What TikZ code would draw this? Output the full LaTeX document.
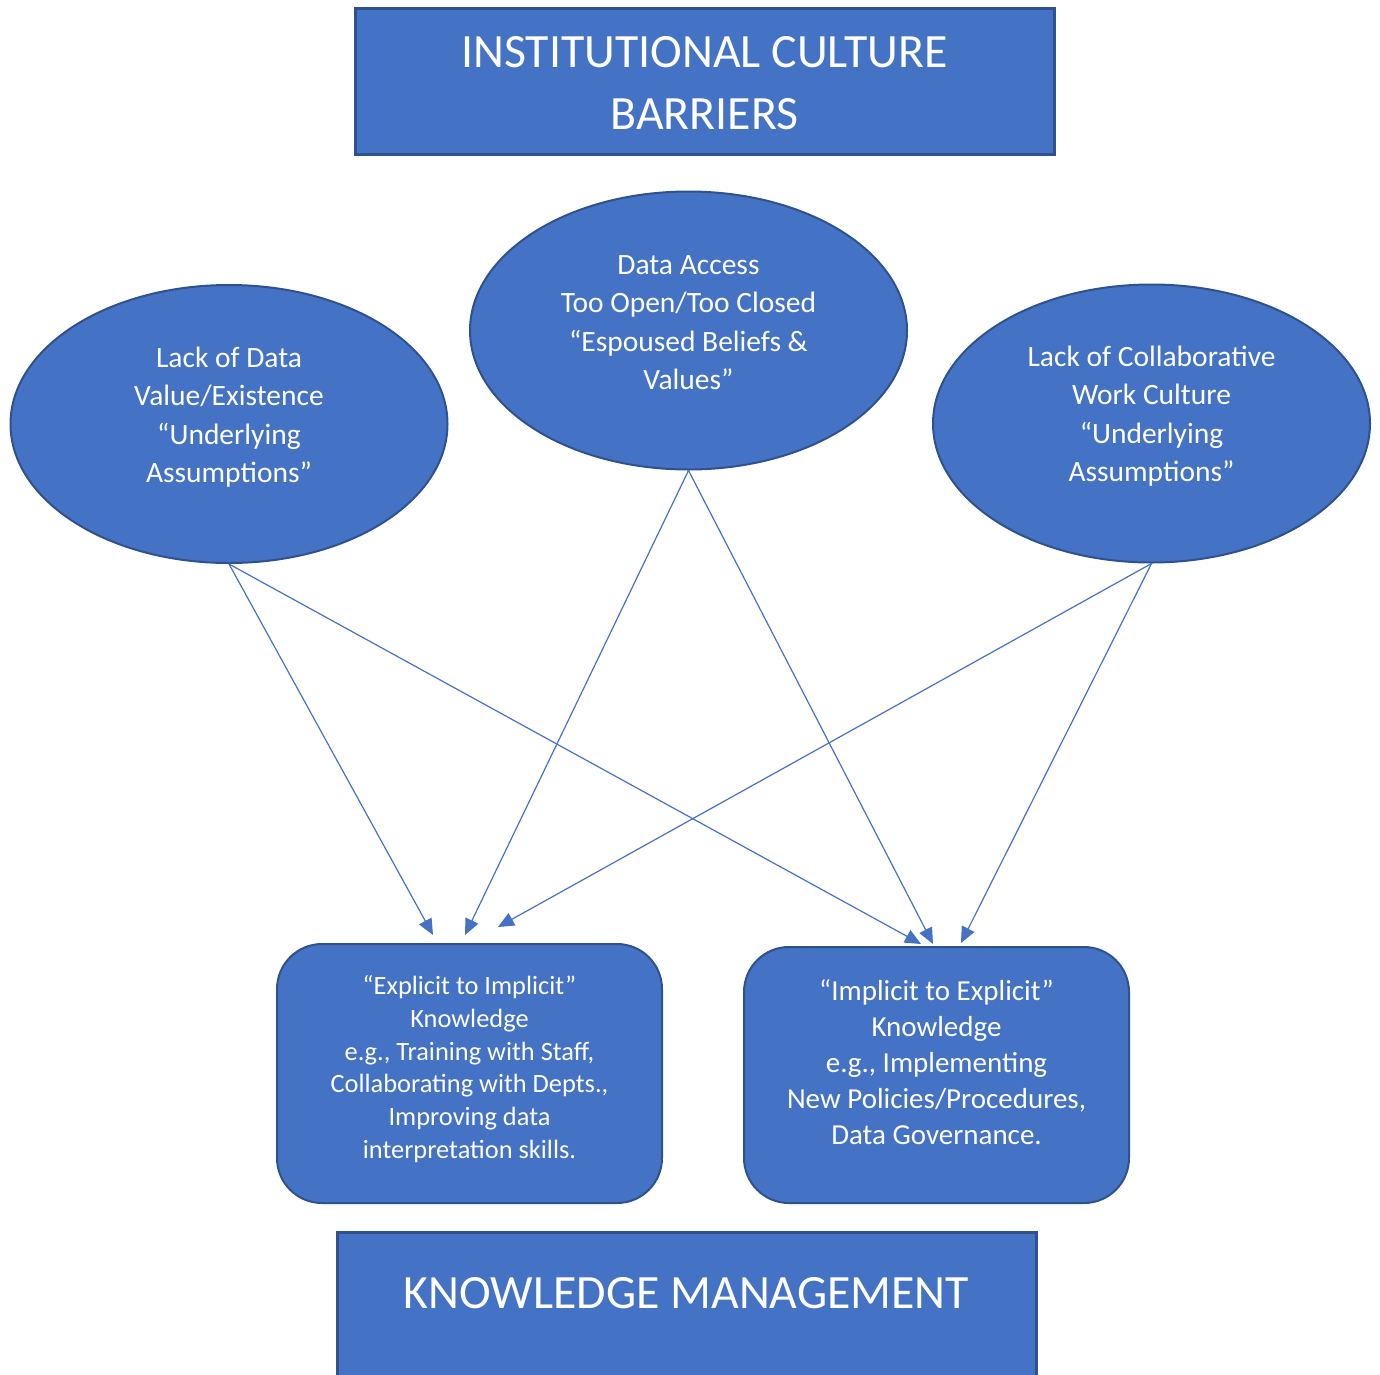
\documentclass[tikz,border=0pt]{standalone}
\usepackage{fontspec}
\setmainfont{Carlito}
\usetikzlibrary{arrows.meta,shapes.geometric}
\definecolor{boxfill}{HTML}{4472C4}
\definecolor{boxline}{HTML}{2F528F}
\begin{document}
\begin{tikzpicture}[x=1pt,y=-1pt]
\tikzset{
  banner/.style={rectangle, draw=boxline, line width=3pt, fill=boxfill, inner sep=0pt, minimum width=699pt},
  ell/.style={ellipse, draw=boxline, line width=2pt, fill=boxfill, minimum width=437pt, minimum height=278pt, inner sep=0pt},
  kbox/.style={rectangle, rounded corners=45pt, draw=boxline, line width=2pt, fill=boxfill, minimum width=385pt, inner sep=0pt},
  txt/.style={text=white, align=center, inner sep=0pt},
  bigtxt/.style={txt, font=\fontsize{47.8}{62}\selectfont},
  elltxt/.style={txt, font=\fontsize{29.5}{38.5}\selectfont},
  link/.style={draw=boxfill, line width=1.2pt, -{Triangle[length=16pt,width=14pt]}},
}
\useasboundingbox (0,0) rectangle (1380,1374);
\clip (0,0) rectangle (1380,1374);

% title banners
\node[banner, minimum height=146pt] (top) at (704.5,81) {};
\node[bigtxt] (toptxt) at (704.5,83) {INSTITUTIONAL CULTURE\\BARRIERS};
\node[banner, minimum height=168pt] (bottom) at (686.5,1316) {};
\node[bigtxt] (bottomtxt) at (686.5,1293) {KNOWLEDGE MANAGEMENT};

% barrier ellipses
\node[ell] (e1) at (229,424) {};
\node[elltxt] (e1txt) at (229,417) {Lack of Data\\Value/Existence\\“Underlying\\Assumptions”};
\node[ell] (e2) at (688.5,330.5) {};
\node[elltxt] (e2txt) at (688.5,322.5) {Data Access\\Too Open/Too Closed\\“Espoused Beliefs \&\\Values”};
\node[ell] (e3) at (1151.5,423.5) {};
\node[elltxt] (e3txt) at (1151.5,416) {Lack of Collaborative\\Work Culture\\“Underlying\\Assumptions”};

% knowledge boxes
\node[kbox, minimum height=259pt] (k1) at (469.5,1073.5) {};
\node[txt, font=\fontsize{26.4}{32.8}\selectfont] (k1txt) at (469.5,1069) {“Explicit to Implicit”\\Knowledge\\e.g., Training with Staff,\\Collaborating with Depts.,\\Improving data\\interpretation skills.};
\node[kbox, minimum height=256pt] (k2) at (936.5,1075) {};
\node[txt, font=\fontsize{29}{36}\selectfont] (k2txt) at (936.5,1062) {“Implicit to Explicit”\\Knowledge\\e.g., Implementing\\New Policies/Procedures,\\Data Governance.};

% arrow targets above the boxes
\coordinate (t1a) at (433,935);
\coordinate (t1b) at (465,935);
\coordinate (t1c) at (498,927);
\coordinate (t2a) at (921,944);
\coordinate (t2b) at (933,944);
\coordinate (t2c) at (961,943);

\draw[link] (e1.south) -- (t1a);
\draw[link] (e1.south) -- (t2a);
\draw[link] (e2.south) -- (t1b);
\draw[link] (e2.south) -- (t2b);
\draw[link] (e3.south) -- (t1c);
\draw[link] (e3.south) -- (t2c);
\end{tikzpicture}
\end{document}
